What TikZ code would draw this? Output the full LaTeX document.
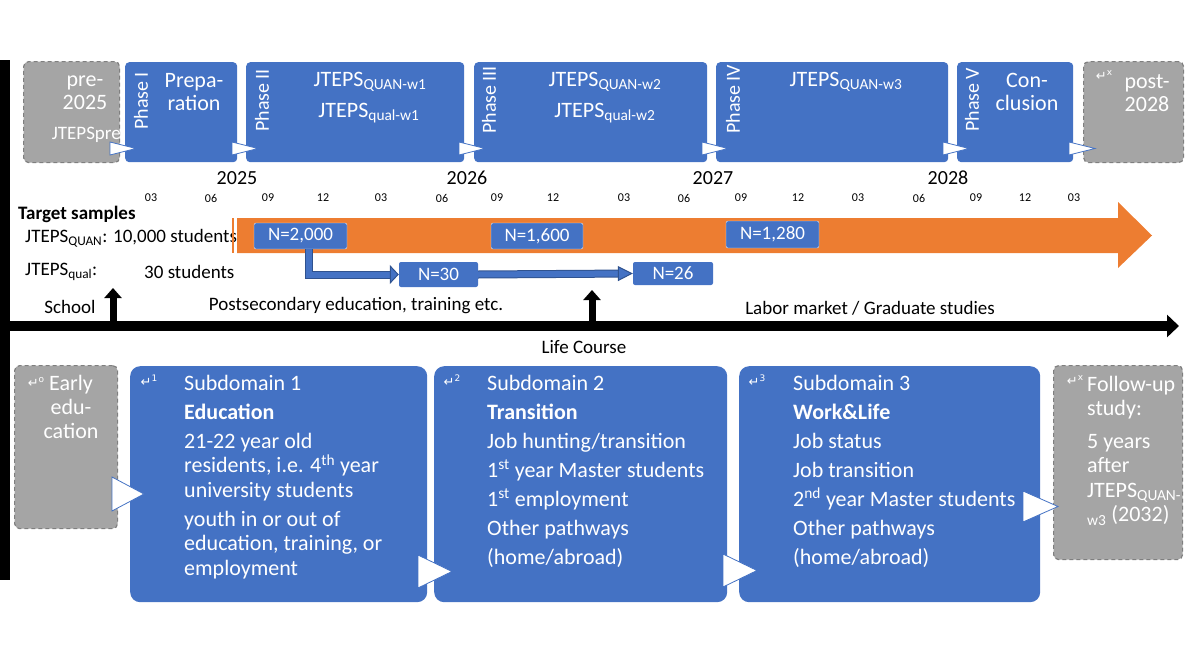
\documentclass[tikz,border=0pt]{standalone}
\usepackage{fontspec}
\setmainfont{Carlito}
\newfontfamily\symfont{DejaVu Sans}
\usetikzlibrary{positioning, arrows.meta}
\definecolor{blu}{HTML}{4472C4}
\definecolor{bludark}{HTML}{2F528F}
\definecolor{orng}{HTML}{ED7D31}
\definecolor{gry}{HTML}{A5A5A5}
\definecolor{gryline}{HTML}{7F7F7F}
\newcommand{\ico}[1]{{\symfont\fontsize{13}{13}\selectfont ↵\raisebox{5pt}{\fontsize{9}{9}\selectfont #1}}}

\begin{document}
\begin{tikzpicture}[
    x=1pt, y=-1pt,
    phasebox/.style={
        fill=blu,
        rounded corners=4pt,
        inner sep=0pt,
        anchor=north west
    },
    dashbox/.style={
        fill=gry,
        draw=gryline,
        line width=1.2pt,
        dash pattern=on 4pt off 3pt,
        rounded corners=5pt,
        inner sep=0pt,
        anchor=north west
    },
    subbox/.style={
        fill=blu,
        rounded corners=10pt,
        inner sep=0pt,
        anchor=north west
    },
    wtxt/.style={text=white, inner sep=0pt, font=\fontsize{22}{23}\selectfont},
    btxt/.style={text=white, inner sep=0pt, align=left, anchor=north west,
        font=\fontsize{22}{24.5}\selectfont},
    phlbl/.style={text=white, inner sep=0pt, rotate=90, anchor=west,
        font=\fontsize{20}{20}\selectfont},
    icon/.style={text=white, inner sep=0pt},
    mtxt/.style={inner sep=0pt, font=\fontsize{19}{22}\selectfont},
    mon/.style={inner sep=0pt, font=\fontsize{12}{14}\selectfont},
    yr/.style={inner sep=0pt, font=\fontsize{20}{22}\selectfont},
    nbox/.style={
        fill=blu,
        text=white,
        rounded corners=2pt,
        inner sep=0pt,
        font=\fontsize{19}{20}\selectfont
    },
    chev/.style={fill=white, draw=blu, line width=0.8pt},
    qualarr/.style={draw=bludark, line width=1pt, double=blu, double distance=6pt},
    blkarr/.style={line width=7pt, -{Triangle[length=10pt, width=17pt]}}
]
\useasboundingbox (0,0) rectangle (1195,672);

% === Left bar ===
\fill (0,60) rectangle (10,580);

% === Phases ===
\node[dashbox, minimum width=96, minimum height=101] (pre) at (23,61) {};
\node[phasebox, minimum width=112, minimum height=100] (ph1) at (125,62) {};
\node[phasebox, minimum width=218, minimum height=100] (ph2) at (246,62) {};
\node[phasebox, minimum width=233, minimum height=100] (ph3) at (474,62) {};
\node[phasebox, minimum width=232, minimum height=100] (ph4) at (716,62) {};
\node[phasebox, minimum width=116, minimum height=100] (ph5) at (957,62) {};
\node[dashbox, minimum width=100, minimum height=101] (post) at (1083,61) {};

\node[wtxt, align=center] at (85,93) {pre-\\2025};
\node[wtxt, anchor=east, font=\fontsize{19}{20}\selectfont] at (121,135) {JTEPSpre};

\node[phlbl] at (141,130) {Phase I};
\node[wtxt, align=center] at (194,92) {Prepa-\\ration};

\node[phlbl] at (262,132) {Phase II};
\node[wtxt] at (370,82) {JTEPS\textsubscript{QUAN-w1}};
\node[wtxt] at (369,113) {JTEPS\textsubscript{qual-w1}};

\node[phlbl] at (489,134) {Phase III};
\node[wtxt] at (605,82) {JTEPS\textsubscript{QUAN-w2}};
\node[wtxt] at (605,113) {JTEPS\textsubscript{qual-w2}};

\node[phlbl] at (733,134) {Phase IV};
\node[wtxt] at (846,82) {JTEPS\textsubscript{QUAN-w3}};

\node[phlbl] at (972,132) {Phase V};
\node[wtxt, align=center] at (1027,92) {Con-\\clusion};

\node[icon] at (1104,76) {\ico{x}};
\node[wtxt, align=center] at (1147,93) {post-\\2028};

\foreach \x in {110,232,459,702,943,1069}
    \draw[chev] (\x,142) -- ++(26,6.5) -- ++(-26,6.5) -- cycle;

% === Calendar ===
\node[yr] (y25) at (237,178) {2025};
\node[yr] (y26) at (467,178) {2026};
\node[yr] (y27) at (713,178) {2027};
\node[yr] (y28) at (948,178) {2028};
\foreach \m/\x in {03/151, 06/211, 09/268, 12/323, 03/381, 06/442, 09/497, 12/553,
    03/624, 06/684, 09/741, 12/798, 03/858, 06/919, 09/976, 12/1025, 03/1074}
    \node[mon] (m\x) at (\x,198) {\m};

% === Target samples ===
\node[mtxt, anchor=west, font=\fontsize{19}{22}\selectfont\bfseries] (tgt) at (18,214) {Target samples};
\node[mtxt, anchor=west] (quan) at (25,238) {JTEPS\textsubscript{QUAN}: 10,000 students};
\node[mtxt, anchor=west] (qual) at (25,272) {JTEPS\textsubscript{qual}:};
\node[mtxt, anchor=west] (qualn) at (144,272) {30 students};

\fill[orng] (232,218) rectangle (233.5,253);
\fill[orng] (237,218) -- (1118,218) -- (1118,202) -- (1152,235.5)
    -- (1118,268) -- (1118,253) -- (237,253) -- cycle;

\node[nbox, draw=white!85!blu, minimum width=93, minimum height=26] (n2000) at (300.5,236) {N=2,000};
\node[nbox, draw=white!85!blu, minimum width=92, minimum height=26] (n1600) at (537,236) {N=1,600};
\node[nbox, draw=white!85!blu, minimum width=93, minimum height=27] (n1280) at (772.5,234.5) {N=1,280};
\node[nbox, minimum width=79, minimum height=25] (n30) at (438.5,274.5) {N=30};
\node[nbox, minimum width=80, minimum height=23] (n26) at (673,273.5) {N=26};

\draw[qualarr, -{Triangle[length=9pt, width=19pt, fill=blu]}]
    ([xshift=8.5pt]n2000.south) |- (n30.west);
\draw[qualarr, -{Triangle[length=15pt, width=15pt, fill=blu]}]
    (n30.east) -- (n26.west);

% === Life course ===
\coordinate (lcs) at (0,326);
\coordinate (lce) at (1179,326);
\draw[line width=10pt, -{Triangle[length=12pt, width=22pt]}] (lcs) -- (lce);
\coordinate (sch) at (113,321);
\coordinate (schtop) at (113,288);
\draw[blkarr] (sch) -- (schtop);
\coordinate (grad) at (592,321);
\coordinate (gradtop) at (592,290);
\draw[blkarr] (grad) -- (gradtop);

\node[mtxt] (school) at (70,307) {School};
\node[mtxt] (postsec) at (356,306) {Postsecondary education, training etc.};
\node[mtxt] (labor) at (870,308) {Labor market / Graduate studies};
\node[mtxt] (life) at (584,347) {Life Course};

% === Subdomains ===
\node[dashbox, minimum width=103, minimum height=163] (early) at (14,365) {};
\node[subbox, minimum width=297, minimum height=236] (sd1) at (130,366) {};
\node[subbox, minimum width=293, minimum height=236] (sd2) at (434,366) {};
\node[subbox, minimum width=301, minimum height=236] (sd3) at (739,366) {};
\node[dashbox, minimum width=129, minimum height=194] (follow) at (1053,365) {};

\node[icon] at (36,382) {\ico{o}};
\node[btxt, align=center, anchor=north, font=\fontsize{22}{24}\selectfont] at (71,375)
    {Early\\edu-\\cation};

\node[icon] at (149,381) {\ico{1}};
\node[btxt] (sd1txt) at (184,375) {
Subdomain 1\\[4.5pt]
\textbf{Education}\\[4.5pt]
21-22 year old\\
residents, i.e. 4\textsuperscript{th} year\\
university students\\[4.5pt]
youth in or out of\\
education, training, or\\
employment
};

\node[icon] at (452,381) {\ico{2}};
\node[btxt] (sd2txt) at (487,375) {
Subdomain 2\\[4.5pt]
\textbf{Transition}\\[4.5pt]
Job hunting/transition\\[4.5pt]
1\textsuperscript{st} year Master students\\[4.5pt]
1\textsuperscript{st} employment\\[4.5pt]
Other pathways\\[4.5pt]
(home/abroad)
};

\node[icon] at (757,381) {\ico{3}};
\node[btxt] (sd3txt) at (793,375) {
Subdomain 3\\[4.5pt]
\textbf{Work\&Life}\\[4.5pt]
Job status\\[4.5pt]
Job transition\\[4.5pt]
2\textsuperscript{nd} year Master students\\[4.5pt]
Other pathways\\[4.5pt]
(home/abroad)
};

\node[icon] at (1075,381) {\ico{x}};
\node[btxt, font=\fontsize{22}{24.5}\selectfont] (fuptxt) at (1087,376) {
Follow-up\\
study:\\[8pt]
5 years\\
after\\
JTEPS\textsubscript{QUAN-}\\
\textsubscript{w3} (2032)
};

\draw[chev] (112,477) -- ++(32,17) -- ++(-32,17) -- cycle;
\draw[chev] (418,555) -- ++(34,16.5) -- ++(-34,16.5) -- cycle;
\draw[chev] (723,554) -- ++(34,16.5) -- ++(-34,16.5) -- cycle;
\draw[chev] (1023,491) -- ++(35,15.5) -- ++(-35,15.5) -- cycle;

\end{tikzpicture}
\end{document}
